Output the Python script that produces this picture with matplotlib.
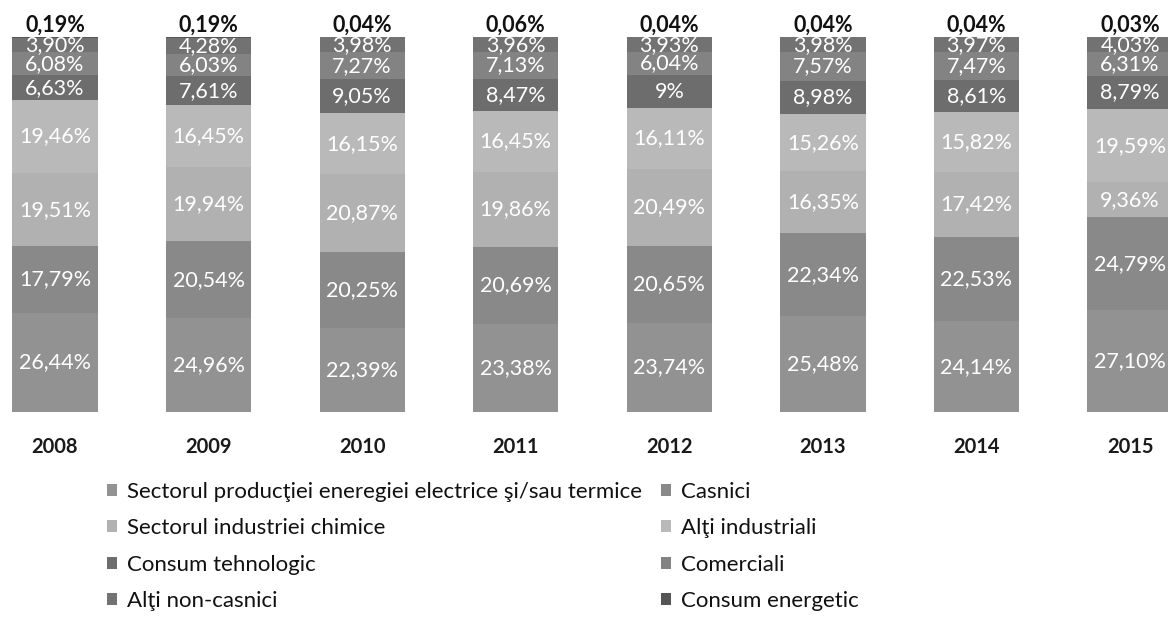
import matplotlib
matplotlib.use("Agg")
import matplotlib.pyplot as plt
from matplotlib.patches import Patch

plt.rcParams['font.family'] = ['Lato', 'DejaVu Sans']

years = ["2008", "2009", "2010", "2011", "2012", "2013", "2014", "2015"]

# stacked bottom -> top
productie = [26.44, 24.96, 22.39, 23.38, 23.74, 25.48, 24.14, 27.10]
casnici = [17.79, 20.54, 20.25, 20.69, 20.65, 22.34, 22.53, 24.79]
chimice = [19.51, 19.94, 20.87, 19.86, 20.49, 16.35, 17.42, 9.36]
alti_ind = [19.46, 16.45, 16.15, 16.45, 16.11, 15.26, 15.82, 19.59]
tehnologic = [6.63, 7.61, 9.05, 8.47, 9.00, 8.98, 8.61, 8.79]
comerciali = [6.08, 6.03, 7.27, 7.13, 6.04, 7.57, 7.47, 6.31]
non_casnici = [3.90, 4.28, 3.98, 3.96, 3.93, 3.98, 3.97, 4.03]
energetic = [0.19, 0.19, 0.04, 0.06, 0.04, 0.04, 0.04, 0.03]

series = [
    ("Sectorul producţiei eneregiei electrice şi/sau termice", productie, "#929292"),
    ("Casnici", casnici, "#898989"),
    ("Sectorul industriei chimice", chimice, "#b1b1b1"),
    ("Alţi industriali", alti_ind, "#b9b9b9"),
    ("Consum tehnologic", tehnologic, "#6d6d6d"),
    ("Comerciali", comerciali, "#838383"),
    ("Alţi non-casnici", non_casnici, "#727272"),
    ("Consum energetic", energetic, "#555555"),
]


def fmt(v):
    if v == int(v):
        return "{}%".format(int(v))
    return "{:.2f}%".format(v).replace(".", ",")


fig = plt.figure(figsize=(11.68, 6.29), dpi=100)
ax = fig.add_axes([0, 0.345, 1, 0.596])
x = list(range(len(years)))
bottom = [0.0] * len(years)
handles = {}
for name, vals, col in series:
    ax.bar(x, vals, 0.555, bottom=bottom, color=col, linewidth=0)
    handles[name] = Patch(facecolor=col, label=name)
    for i, v in enumerate(vals):
        if name == "Consum energetic":
            ax.text(i, 100.3, fmt(v), ha="center", va="bottom", fontsize=15.5,
                    fontweight="bold", color="#111111", clip_on=False)
        else:
            ax.text(i, bottom[i] + v / 2, fmt(v), ha="center", va="center",
                    fontsize=15.5, color="white")
    bottom = [b + v for b, v in zip(bottom, vals)]

ax.set_xlim(-0.358, 7.247)
ax.set_ylim(0, 100)
ax.set_xticks(x)
ax.set_xticklabels(years, fontsize=14.5, fontweight="bold", color="#1a1a1a")
ax.tick_params(axis="x", length=0, pad=18)
ax.set_yticks([])
for s in ax.spines.values():
    s.set_visible(False)

col1 = ["Sectorul producţiei eneregiei electrice şi/sau termice",
        "Sectorul industriei chimice", "Consum tehnologic", "Alţi non-casnici"]
col2 = ["Casnici", "Alţi industriali", "Comerciali", "Consum energetic"]
for names, xa in [(col1, 0.092), (col2, 0.566)]:
    fig.legend(handles=[handles[n] for n in names], loc="upper left",
               bbox_to_anchor=(xa, 0.234), frameon=False, fontsize=16,
               handlelength=0.45, handleheight=0.45, handletextpad=0.45,
               labelspacing=0.74, borderpad=0, borderaxespad=0,
               labelcolor="#111111")

fig.savefig("out.png", dpi=100)
